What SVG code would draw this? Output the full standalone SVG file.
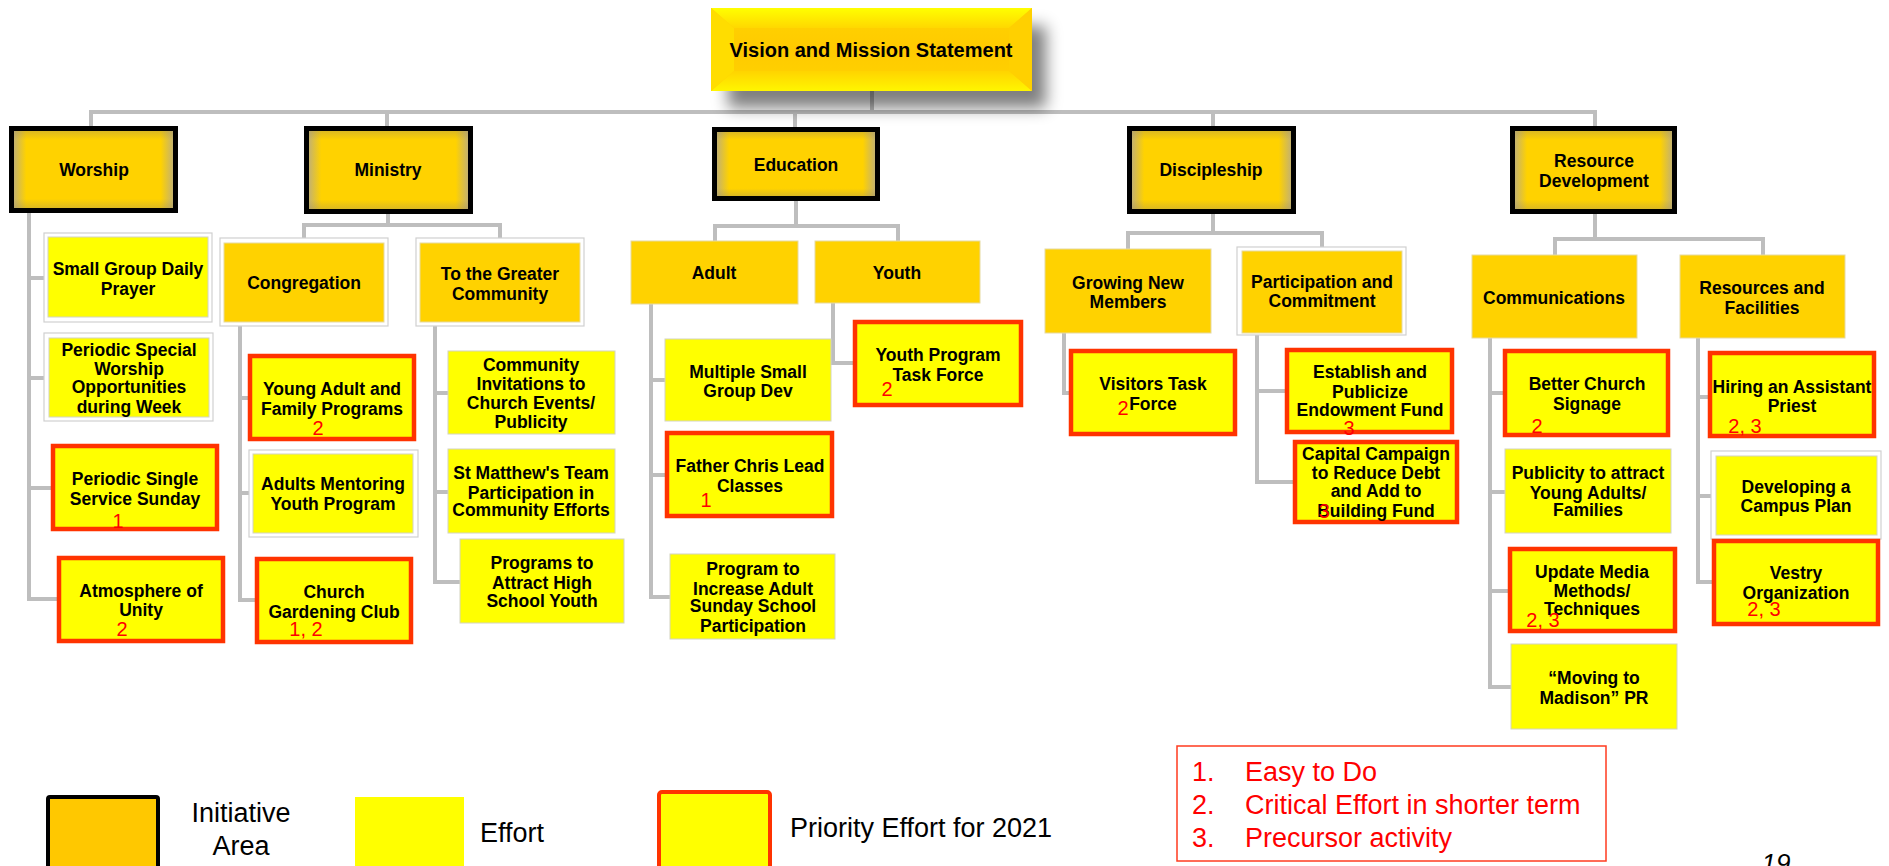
<svg xmlns="http://www.w3.org/2000/svg" width="1889" height="866" viewBox="0 0 1889 866">
<style>
.conn{stroke:#BEBEBE;stroke-width:4;fill:none}
.init{fill:url(#ig);stroke:#000;stroke-width:5}
.initv{fill:url(#iv);stroke:none}
.cat{fill:#FFD200;stroke:#E6D9A0;stroke-width:1}
.eff{fill:#FFFF00;stroke:#D4D4C0;stroke-width:1}
.pri{fill:#FFFF00;stroke:#FF3300;stroke-width:4.5}
.frame{fill:#FFFFFF;stroke:#D0D0D0;stroke-width:1.2}
.t{font-family:"Liberation Sans",Arial,sans-serif;font-weight:bold;font-size:17.5px;text-anchor:middle;fill:#000}
.tv{font-family:"Liberation Sans",Arial,sans-serif;font-weight:bold;font-size:20px;text-anchor:middle;fill:#000}
.n{font-family:"Liberation Sans",Arial,sans-serif;font-size:20px;text-anchor:middle;fill:#FF0000}
.lg{font-family:"Liberation Sans",Arial,sans-serif;font-size:27px;fill:#000}
.lr{font-family:"Liberation Sans",Arial,sans-serif;font-size:27px;fill:#FF0000}
</style>
<defs>
<linearGradient id="ig" x1="0" y1="0" x2="1" y2="0">
<stop offset="0" stop-color="#B9AC84"/><stop offset="0.09" stop-color="#FFD200"/><stop offset="0.91" stop-color="#FFD200"/><stop offset="1" stop-color="#B9AC84"/>
</linearGradient>
<linearGradient id="iv" x1="0" y1="0" x2="0" y2="1">
<stop offset="0" stop-color="#9A8A60" stop-opacity="0.35"/><stop offset="0.12" stop-color="#9A8A60" stop-opacity="0"/><stop offset="0.88" stop-color="#9A8A60" stop-opacity="0"/><stop offset="1" stop-color="#9A8A60" stop-opacity="0.35"/>
</linearGradient>
<linearGradient id="vg" x1="0" y1="0" x2="0" y2="1">
<stop offset="0" stop-color="#FFD400"/><stop offset="0.5" stop-color="#FFCA00"/><stop offset="1" stop-color="#FFD400"/>
</linearGradient>
<linearGradient id="vt" x1="0" y1="0" x2="0" y2="1">
<stop offset="0" stop-color="#FFFF00"/><stop offset="1" stop-color="#FFD800"/>
</linearGradient>
<linearGradient id="vb" x1="0" y1="1" x2="0" y2="0">
<stop offset="0" stop-color="#FFF600"/><stop offset="1" stop-color="#FFD400"/>
</linearGradient>
<filter id="sh" x="-20%" y="-40%" width="140%" height="180%"><feGaussianBlur stdDeviation="8"/></filter>
</defs>

<g id="connectors">
<path class="conn" d="M872,91 V112"/>
<path class="conn" d="M91,126 V112 H1595 V126"/>
<path class="conn" d="M387,112 V126"/>
<path class="conn" d="M795,112 V127"/>
<path class="conn" d="M1213,112 V126"/>
<path class="conn" d="M29,213 V599 H57 M29,278 H44 M29,378 H44 M29,488 H51"/>
<path class="conn" d="M388,214 V225 M304,238 V225 H500 V238"/>
<path class="conn" d="M240,326 V600 H255 M240,398 H248 M240,493 H249"/>
<path class="conn" d="M435,326 V582 H460 M435,393 H448 M435,492 H448"/>
<path class="conn" d="M796,201 V226 M715,241 V226 H898 V241"/>
<path class="conn" d="M651,304 V597 H670 M651,380 H665 M651,475 H665"/>
<path class="conn" d="M833,303 V363 H853"/>
<path class="conn" d="M1213,214 V233 M1128,249 V233 H1322 V247"/>
<path class="conn" d="M1064,333 V393 H1069"/>
<path class="conn" d="M1257,335 V482 H1293 M1257,391 H1285"/>
<path class="conn" d="M1595,214 V239 M1555,255 V239 H1763 V255"/>
<path class="conn" d="M1490,338 V687 H1511 M1490,393 H1503 M1490,492 H1505 M1490,591 H1508"/>
<path class="conn" d="M1698,338 V582 H1712 M1698,397 H1708 M1698,496 H1711"/>
</g>

<g id="vision">
<rect x="728" y="26" width="318" height="82" fill="#000" opacity="0.5" filter="url(#sh)"/>
<rect x="711" y="8" width="321" height="83" fill="url(#vg)"/>
<polygon points="711,8 1032,8 1009,28 734,28" fill="url(#vt)"/>
<polygon points="711,91 1032,91 1009,71 734,71" fill="url(#vb)"/>
<polygon points="711,8 734,28 734,71 711,91" fill="#FFDD00"/>
<polygon points="1032,8 1009,28 1009,71 1032,91" fill="#FFD000"/>
<text class="tv" x="871" y="57">Vision and Mission Statement</text>
</g>

<g id="worship">
<rect class="init" x="11.5" y="128.5" width="164" height="82"/><rect class="initv" x="14" y="131" width="159" height="77"/>
<text class="t" x="94" y="176">Worship</text>
</g>
<g id="ministry">
<rect class="init" x="306.5" y="128.5" width="164" height="83"/><rect class="initv" x="309" y="131" width="159" height="78"/>
<text class="t" x="388" y="176">Ministry</text>
</g>
<g id="education">
<rect class="init" x="714.5" y="129.5" width="163" height="69"/><rect class="initv" x="717" y="132" width="158" height="64"/>
<text class="t" x="796" y="171">Education</text>
</g>
<g id="discipleship">
<rect class="init" x="1129.5" y="128.5" width="164" height="83"/><rect class="initv" x="1132" y="131" width="159" height="78"/>
<text class="t" x="1211" y="176">Discipleship</text>
</g>
<g id="resource-development">
<rect class="init" x="1512.5" y="128.5" width="162" height="83"/><rect class="initv" x="1515" y="131" width="157" height="78"/>
<text class="t" x="1594" y="167">Resource</text><text class="t" x="1594" y="187">Development</text>
</g>

<g id="congregation">
<rect class="frame" x="220" y="238" width="168" height="88"/><rect class="cat" x="224" y="243" width="160" height="79"/>
<text class="t" x="304" y="289">Congregation</text>
</g>
<g id="greater-community">
<rect class="frame" x="416" y="238" width="168" height="88"/><rect class="cat" x="420" y="243" width="160" height="79"/>
<text class="t" x="500" y="280">To the Greater</text><text class="t" x="500" y="300">Community</text>
</g>
<g id="adult">
<rect class="cat" x="631" y="241" width="167" height="63"/>
<text class="t" x="714" y="279">Adult</text>
</g>
<g id="youth">
<rect class="cat" x="815" y="241" width="165" height="62"/>
<text class="t" x="897" y="279">Youth</text>
</g>
<g id="growing-new-members">
<rect class="cat" x="1045" y="249" width="166" height="84"/>
<text class="t" x="1128" y="289">Growing New</text><text class="t" x="1128" y="308">Members</text>
</g>
<g id="participation">
<rect class="frame" x="1237" y="247" width="169" height="88"/><rect class="cat" x="1242" y="251" width="160" height="82"/>
<text class="t" x="1322" y="288">Participation and</text><text class="t" x="1322" y="307">Commitment</text>
</g>
<g id="communications">
<rect class="cat" x="1472" y="255" width="165" height="83"/>
<text class="t" x="1554" y="304">Communications</text>
</g>
<g id="resources-facilities">
<rect class="cat" x="1680" y="255" width="165" height="83"/>
<text class="t" x="1762" y="294">Resources and</text><text class="t" x="1762" y="314">Facilities</text>
</g>

<g id="small-group-prayer">
<rect class="frame" x="44" y="233" width="168" height="89"/><rect class="eff" x="48" y="237" width="160" height="80"/>
<text class="t" x="128" y="275">Small Group Daily</text><text class="t" x="128" y="295">Prayer</text>
</g>
<g id="periodic-special">
<rect class="frame" x="44" y="333" width="169" height="88"/><rect class="eff" x="49" y="338" width="160" height="79"/>
<text class="t" x="129" y="356">Periodic Special</text><text class="t" x="129" y="375">Worship</text><text class="t" x="129" y="393">Opportunities</text><text class="t" x="129" y="413">during Week</text>
</g>
<g id="periodic-single">
<rect class="pri" x="53" y="446" width="164" height="83"/>
<text class="t" x="135" y="485">Periodic Single</text><text class="t" x="135" y="505">Service Sunday</text>
<text class="n" x="118" y="528">1</text>
</g>
<g id="atmosphere-unity">
<rect class="pri" x="59" y="558" width="164" height="83"/>
<text class="t" x="141" y="597">Atmosphere of</text><text class="t" x="141" y="616">Unity</text>
<text class="n" x="122" y="636">2</text>
</g>

<g id="young-adult-family">
<rect class="pri" x="250" y="356" width="164" height="83"/>
<text class="t" x="332" y="395">Young Adult and</text><text class="t" x="332" y="415">Family Programs</text>
<text class="n" x="318" y="435">2</text>
</g>
<g id="adults-mentoring">
<rect class="frame" x="249" y="450" width="169" height="87"/><rect class="eff" x="253" y="454" width="160" height="79"/>
<text class="t" x="333" y="490">Adults Mentoring</text><text class="t" x="333" y="510">Youth Program</text>
</g>
<g id="gardening-club">
<rect class="pri" x="257" y="559" width="154" height="83"/>
<text class="t" x="334" y="598">Church</text><text class="t" x="334" y="618">Gardening Club</text>
<text class="n" x="306" y="636">1, 2</text>
</g>

<g id="community-invitations">
<rect class="eff" x="448" y="351" width="167" height="83"/>
<text class="t" x="531" y="371">Community</text><text class="t" x="531" y="390">Invitations to</text><text class="t" x="531" y="409">Church Events/</text><text class="t" x="531" y="428">Publicity</text>
</g>
<g id="team-participation">
<rect class="eff" x="448" y="449" width="167" height="84"/>
<text class="t" x="531" y="479">St Matthew's Team</text><text class="t" x="531" y="499">Participation in</text><text class="t" x="531" y="516">Community Efforts</text>
</g>
<g id="high-school-youth">
<rect class="eff" x="460" y="539" width="164" height="84"/>
<text class="t" x="542" y="569">Programs to</text><text class="t" x="542" y="589">Attract High</text><text class="t" x="542" y="607">School Youth</text>
</g>

<g id="multiple-small-group">
<rect class="eff" x="665" y="339" width="166" height="82"/>
<text class="t" x="748" y="378">Multiple Small</text><text class="t" x="748" y="397">Group Dev</text>
</g>
<g id="father-chris">
<rect class="pri" x="667" y="433" width="165" height="83"/>
<text class="t" x="750" y="472">Father Chris Lead</text><text class="t" x="750" y="492">Classes</text>
<text class="n" x="706" y="507">1</text>
</g>
<g id="adult-sunday-school">
<rect class="eff" x="670" y="554" width="165" height="85"/>
<text class="t" x="753" y="575">Program to</text><text class="t" x="753" y="595">Increase Adult</text><text class="t" x="753" y="612">Sunday School</text><text class="t" x="753" y="632">Participation</text>
</g>

<g id="youth-task-force">
<rect class="pri" x="855" y="322" width="166" height="83"/>
<text class="t" x="938" y="361">Youth Program</text><text class="t" x="938" y="381">Task Force</text>
<text class="n" x="887" y="396">2</text>
</g>

<g id="visitors-task-force">
<rect class="pri" x="1071" y="351" width="164" height="83"/>
<text class="t" x="1153" y="390">Visitors Task</text><text class="t" x="1153" y="410">Force</text>
<text class="n" x="1123" y="415">2</text>
</g>

<g id="endowment-fund">
<rect class="pri" x="1287" y="350" width="165" height="82"/>
<text class="t" x="1370" y="378">Establish and</text><text class="t" x="1370" y="398">Publicize</text><text class="t" x="1370" y="416">Endowment Fund</text>
<text class="n" x="1349" y="435">3</text>
</g>
<g id="capital-campaign">
<rect class="pri" x="1295" y="442" width="162" height="80"/>
<text class="t" x="1376" y="460">Capital Campaign</text><text class="t" x="1376" y="479">to Reduce Debt</text><text class="t" x="1376" y="497">and Add to</text><text class="t" x="1376" y="517">Building Fund</text>
<text class="n" x="1324" y="518">3</text>
</g>

<g id="church-signage">
<rect class="pri" x="1505" y="351" width="163" height="84"/>
<text class="t" x="1587" y="390">Better Church</text><text class="t" x="1587" y="410">Signage</text>
<text class="n" x="1537" y="433">2</text>
</g>
<g id="publicity-young-adults">
<rect class="eff" x="1505" y="449" width="166" height="84"/>
<text class="t" x="1588" y="479">Publicity to attract</text><text class="t" x="1588" y="499">Young Adults/</text><text class="t" x="1588" y="516">Families</text>
</g>
<g id="media-methods">
<rect class="pri" x="1510" y="549" width="165" height="82"/>
<text class="t" x="1592" y="578">Update Media</text><text class="t" x="1592" y="597">Methods/</text><text class="t" x="1592" y="615">Techniques</text>
<text class="n" x="1543" y="627">2, 3</text>
</g>
<g id="moving-madison">
<rect class="eff" x="1511" y="644" width="166" height="85"/>
<text class="t" x="1594" y="684">“Moving to</text><text class="t" x="1594" y="704">Madison” PR</text>
</g>

<g id="assistant-priest">
<rect class="pri" x="1710" y="353" width="164" height="83"/>
<text class="t" x="1792" y="393">Hiring an Assistant</text><text class="t" x="1792" y="412">Priest</text>
<text class="n" x="1745" y="433">2, 3</text>
</g>
<g id="campus-plan">
<rect class="frame" x="1711" y="451" width="170" height="88"/><rect class="eff" x="1716" y="456" width="161" height="79"/>
<text class="t" x="1796" y="493">Developing a</text><text class="t" x="1796" y="512">Campus Plan</text>
</g>
<g id="vestry-organization">
<rect class="pri" x="1714" y="541" width="164" height="83"/>
<text class="t" x="1796" y="579">Vestry</text><text class="t" x="1796" y="599">Organization</text>
<text class="n" x="1764" y="616">2, 3</text>
</g>

<g id="legend">
<rect x="48" y="797" width="110" height="80" rx="2" fill="#FFC800" stroke="#000" stroke-width="4"/>
<text class="lg" x="241" y="822" text-anchor="middle">Initiative</text>
<text class="lg" x="241" y="855" text-anchor="middle">Area</text>
<rect x="355" y="797" width="109" height="80" fill="#FFFF00"/>
<text class="lg" x="480" y="842">Effort</text>
<rect x="659" y="792" width="111" height="80" rx="3" fill="#FFFF00" stroke="#FF3300" stroke-width="4"/>
<text class="lg" x="790" y="837">Priority Effort for 2021</text>
<rect x="1177" y="746" width="429" height="115" fill="#FFFFFF" stroke="#FF3B1F" stroke-width="1.5"/>
<text class="lr" x="1192" y="781">1.</text><text class="lr" x="1245" y="781">Easy to Do</text>
<text class="lr" x="1192" y="814">2.</text><text class="lr" x="1245" y="814">Critical Effort in shorter term</text>
<text class="lr" x="1192" y="847">3.</text><text class="lr" x="1245" y="847">Precursor activity</text>
<text x="1776" y="872" text-anchor="middle" font-family="Liberation Sans, Arial, sans-serif" font-style="italic" font-size="26px" fill="#000">19</text>
</g>
</svg>
